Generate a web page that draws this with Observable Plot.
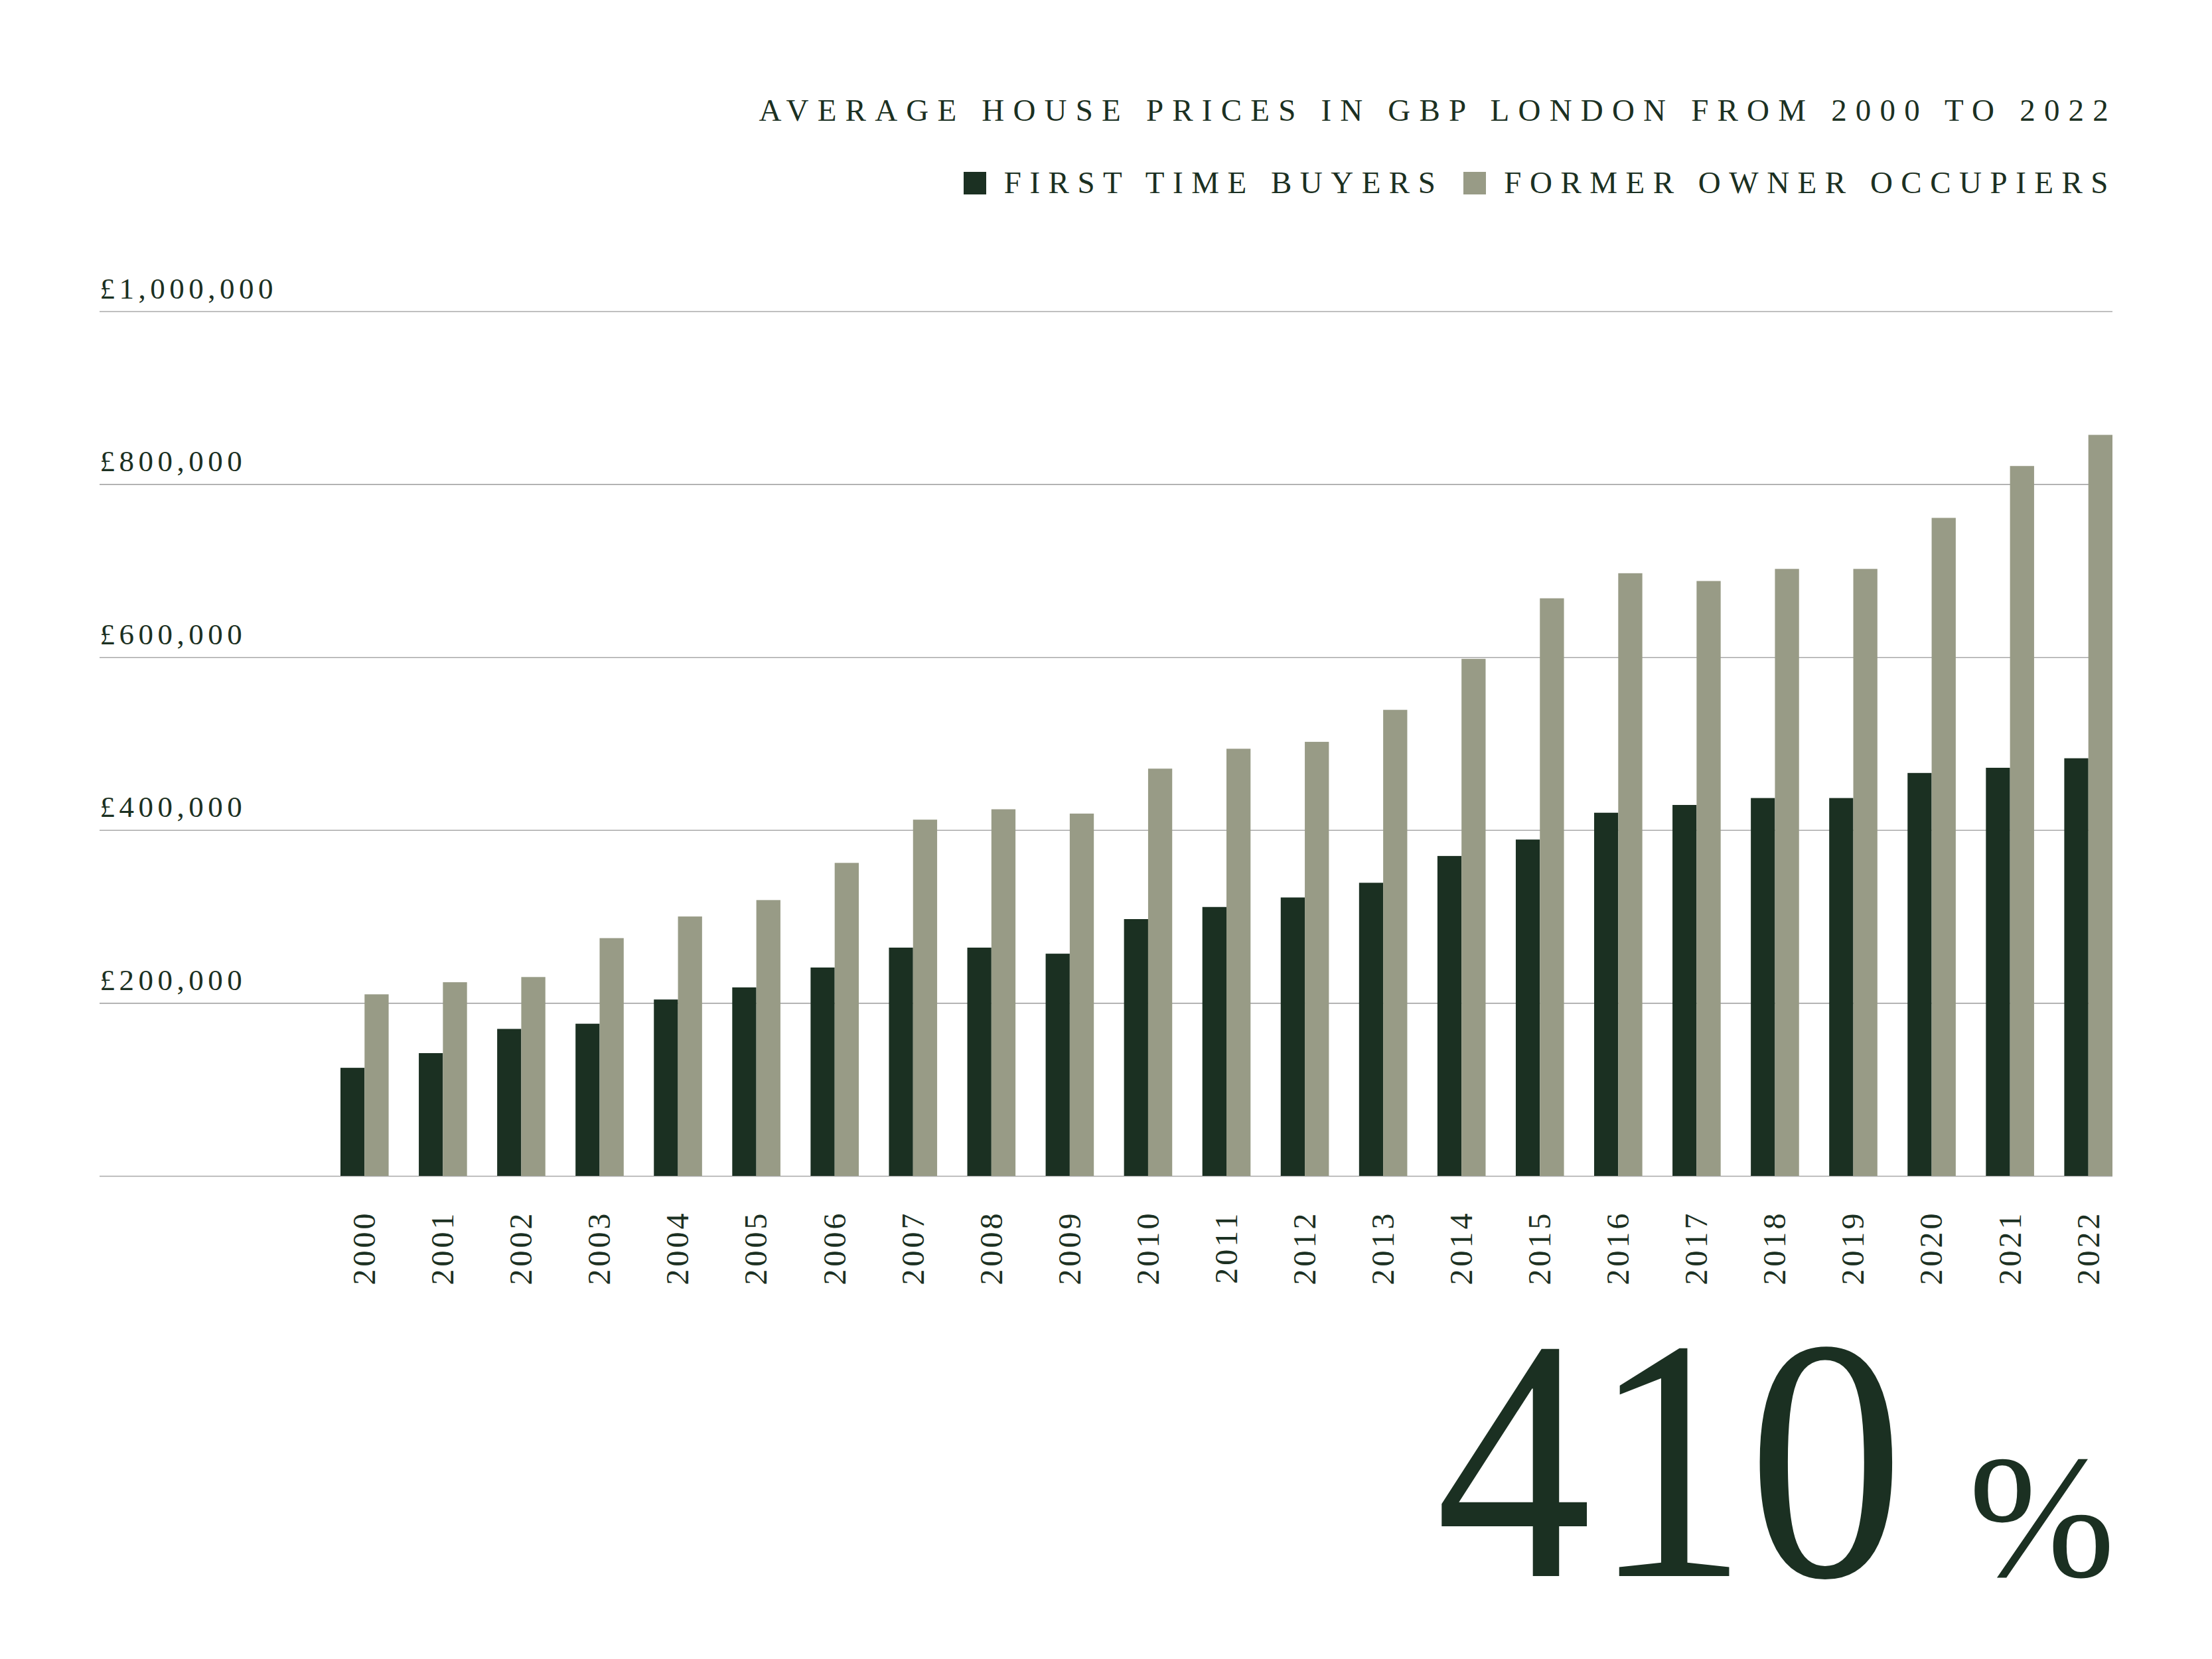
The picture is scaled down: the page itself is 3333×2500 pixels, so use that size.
<!DOCTYPE html>
<html>
<head>
<meta charset="utf-8">
<script src="https://cdn.jsdelivr.net/npm/d3@7"></script>
<script src="https://cdn.jsdelivr.net/npm/@observablehq/plot@0.6"></script>
<style>
  html, body { margin: 0; padding: 0; background: #ffffff; }
  #page { position: relative; width: 3333px; height: 2500px; background: #ffffff; font-family: "Liberation Serif", "DejaVu Serif", serif; color: #1b3022; overflow: hidden; }
  .title { position: absolute; right: 143px; top: 136px; font-size: 47px; line-height: 60px; letter-spacing: 13.2px; white-space: nowrap; }
  .legend { position: absolute; right: 144px; top: 248px; font-size: 47px; line-height: 55px; letter-spacing: 12.5px; white-space: nowrap; display: flex; align-items: center; }
  .legend .sw { display: inline-block; width: 34px; height: 34px; margin-right: 27px; }
  .legend .item { display: inline-flex; align-items: center; margin-left: 30px; }
  .legend .item:first-child { margin-left: 0; }
  #chart { position: absolute; left: 0; top: 380px; }
  .big { position: absolute; right: 146px; top: 1940px; font-size: 520px; line-height: 1; white-space: nowrap; }
  .big .num { display: inline-block; transform: scaleX(0.905); transform-origin: right bottom; }
  .big .pct { font-size: 265px; margin-left: 97px; }
  svg g[aria-label="text"] text { letter-spacing: 6.5px; }
  svg g[aria-label="x-axis tick label"] text { letter-spacing: 4px; }
</style>
</head>
<body>
<div id="page">
  <div class="title">AVERAGE HOUSE PRICES IN GBP LONDON FROM 2000 TO 2022</div>
  <div class="legend" id="legend"></div>
  <div id="chart"></div>
  <div class="big"><span class="num">410</span><span class="pct">%</span></div>
</div>
<script>
const years = ["2000","2001","2002","2003","2004","2005","2006","2007","2008","2009","2010","2011","2012","2013","2014","2015","2016","2017","2018","2019","2020","2021","2022"];
const firstTimeBuyers = [125000,142000,170000,176000,204000,218000,241000,264000,264000,257000,297000,311000,322000,339000,370000,389000,420000,429000,437000,437000,466000,472000,483000];
const formerOwnerOccupiers = [210000,224000,230000,275000,300000,319000,362000,412000,424000,419000,471000,494000,502000,539000,598000,668000,697000,688000,702000,702000,761000,821000,857000];
const seriesNames = ["FIRST TIME BUYERS", "FORMER OWNER OCCUPIERS"];
const seriesColors = ["#1b3022", "#989b86"];
const yTicks = [0, 200000, 400000, 600000, 800000, 1000000];
const yTickLabels = ["", "£200,000", "£400,000", "£600,000", "£800,000", "£1,000,000"];

const rows = years.map((y, i) => ({year: y, ftb: firstTimeBuyers[i], foo: formerOwnerOccupiers[i]}));
const tickRows = yTicks.map((v, i) => ({v, label: yTickLabels[i]}));

// legend
const legend = document.getElementById("legend");
seriesNames.forEach((name, i) => {
  const item = document.createElement("span");
  item.className = "item";
  const sw = document.createElement("span");
  sw.className = "sw";
  sw.style.background = seriesColors[i];
  item.appendChild(sw);
  const t = document.createElement("span");
  t.textContent = name;
  item.appendChild(t);
  legend.appendChild(item);
});

const W = 3333;
const marginLeft = 150, marginRight = 150;
const bandStart = 513, bandEnd = W - marginRight;
const paddingInner = 0.385;
const step = (bandEnd - bandStart) / (years.length - paddingInner);
const half = step * (1 - paddingInner) / 2;

const plot = Plot.plot({
  width: W,
  height: 1612,
  marginTop: 89,
  marginBottom: 220,
  marginLeft,
  marginRight,
  style: {fontFamily: '"Liberation Serif", "DejaVu Serif", serif', background: "#ffffff", color: "#1b3022"},
  x: {type: "band", domain: years, range: [bandStart, bandEnd], paddingInner, paddingOuter: 0, round: false, label: null},
  y: {domain: [0, 1000000], axis: null, label: null},
  marks: [
    Plot.ruleY(yTicks, {stroke: "#a9a9a9", strokeWidth: 1.6}),
    Plot.barY(rows, {x: "year", y: "ftb", fill: seriesColors[0], insetRight: half, insetLeft: 0}),
    Plot.barY(rows, {x: "year", y: "foo", fill: seriesColors[1], insetLeft: half, insetRight: 0}),
    Plot.text(tickRows, {y: "v", text: "label", frameAnchor: "left", textAnchor: "start", lineAnchor: "bottom", dy: -20, fontSize: 45, fill: "#1b3022"}),
    Plot.axisX({tickRotate: -90, tickSize: 0, tickPadding: 52, fontSize: 48, fill: "#1b3022", label: null})
  ]
});
document.getElementById("chart").appendChild(plot);
</script>
</body>
</html>
